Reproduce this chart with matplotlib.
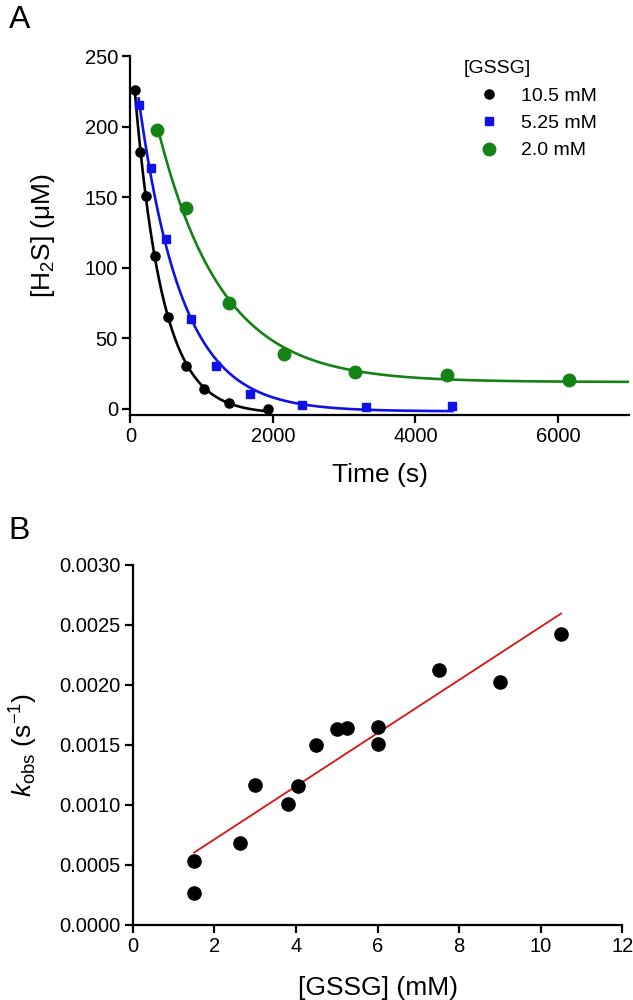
import matplotlib
matplotlib.use("Agg")
import matplotlib.pyplot as plt
import numpy as np

plt.rcParams['font.family'] = ['Liberation Sans', 'DejaVu Sans']
plt.rcParams['mathtext.fontset'] = 'custom'
plt.rcParams['mathtext.rm'] = 'Liberation Sans'
plt.rcParams['mathtext.it'] = 'Liberation Sans:italic'

# ---- panel A data: H2S decay at three GSSG concentrations ----
labels_a = ['10.5 mM', '5.25 mM', '2.0 mM']
t_black = [63, 133, 219, 352, 525, 779, 1039, 1385, 1933]
h2s_black = [226, 182, 151, 108, 64.7, 30.2, 13.9, 3.8, -0.5]
t_blue = [115, 283, 496, 854, 1200, 1685, 2412, 3306, 4518]
h2s_blue = [215.5, 170.7, 120.4, 63.3, 30.2, 10.2, 2.6, 1.4, 1.9]
t_green = [375, 779, 1379, 2152, 3145, 4443, 6162]
h2s_green = [197.4, 141.9, 75.1, 38.7, 25.7, 23.8, 20.3]

# ---- panel B data: kobs vs [GSSG] ----
gssg = [1.5, 1.5, 2.625, 3.0, 3.8, 4.05, 4.5, 5.0, 5.25, 6.0, 6.0, 7.5, 9.0, 10.5]
kobs = [0.000264, 0.000536, 0.000686, 0.001167, 0.001006, 0.001161, 0.0015,
        0.001636, 0.001644, 0.001653, 0.001508, 0.002128, 0.002028, 0.002425]

TICK_FS = 14.5
LABEL_FS = 19


def fit_exp(t, y):
    '''single exponential decay with plateau: y = A*exp(-k t) + C'''
    t = np.asarray(t, float)
    y = np.asarray(y, float)
    best = None
    for k in np.linspace(0.0002, 0.006, 3000):
        M = np.column_stack([np.exp(-k * t), np.ones_like(t)])
        coef = np.linalg.lstsq(M, y, rcond=None)[0]
        err = np.sum((M @ coef - y) ** 2)
        if best is None or err < best[0]:
            best = (err, k, coef[0], coef[1])
    return best[1:]


def style_axes(ax):
    for s in ['top', 'right']:
        ax.spines[s].set_visible(False)
    for s in ['left', 'bottom']:
        ax.spines[s].set_linewidth(1.6)
    ax.tick_params(direction='out', length=6, width=1.6, labelsize=TICK_FS, pad=3)


fig = plt.figure(figsize=(6.33, 10), dpi=100)

# ---------------- A ----------------
axA = fig.add_axes([0.206, 0.585, 0.788, 0.359])
series = [(t_black, h2s_black, 'black', 'o', 6.6, False),
          (t_blue, h2s_blue, '#1010e8', 's', 6.0, False),
          (t_green, h2s_green, '#148214', 'o', 9.0, True)]
xmax_a = 7000
for (t, y, col, mk, ms, to_axis), lab in zip(series, labels_a):
    k, A, C = fit_exp(t, y)
    tt = np.linspace(t[0], xmax_a if to_axis else t[-1], 300)
    axA.plot(tt, A * np.exp(-k * tt) + C, color=col, lw=1.9, zorder=2)
    axA.plot(t, y, linestyle='none', marker=mk, ms=ms, color=col, label=lab, zorder=3)

axA.set_xlim(0, xmax_a)
axA.set_ylim(-4.5, 250)
axA.set_xticks([0, 2000, 4000, 6000])
axA.set_yticks([0, 50, 100, 150, 200, 250])
axA.set_xlabel('Time (s)', fontsize=LABEL_FS, labelpad=12)
axA.set_ylabel(r'[H$_2$S] (μM)', fontsize=LABEL_FS, labelpad=20)
style_axes(axA)
leg = axA.legend(title='[GSSG]', loc='upper left', bbox_to_anchor=(0.645, 1.02),
                 frameon=False, fontsize=14, title_fontsize=14,
                 handlelength=2.6, handletextpad=0.35, labelspacing=0.5,
                 borderaxespad=0.2, alignment='left')

# ---------------- B ----------------
axB = fig.add_axes([0.210, 0.075, 0.773, 0.36])
axB.plot(gssg, kobs, linestyle='none', marker='o', ms=9.5, color='black', zorder=3)
slope, icpt = np.polyfit(gssg, kobs, 1)
xx = np.array([min(gssg), max(gssg)])
axB.plot(xx, slope * xx + icpt, color='#e01010', lw=1.3, zorder=2)
axB.set_xlim(0, 12)
axB.set_ylim(0, 0.003)
axB.set_xticks(range(0, 13, 2))
axB.set_yticks(np.arange(0, 0.0031, 0.0005))
axB.yaxis.set_major_formatter(matplotlib.ticker.FormatStrFormatter('%.4f'))
axB.set_xlabel('[GSSG] (mM)', fontsize=LABEL_FS, labelpad=14)
axB.set_ylabel(r'$k_{\mathrm{obs}}$ (s$^{-1}$)', fontsize=LABEL_FS, labelpad=14)
style_axes(axB)

fig.text(0.014, 0.995, 'A', fontsize=23, va='top', ha='left')
fig.text(0.014, 0.484, 'B', fontsize=23, va='top', ha='left')

fig.savefig('out.png', dpi=100)
